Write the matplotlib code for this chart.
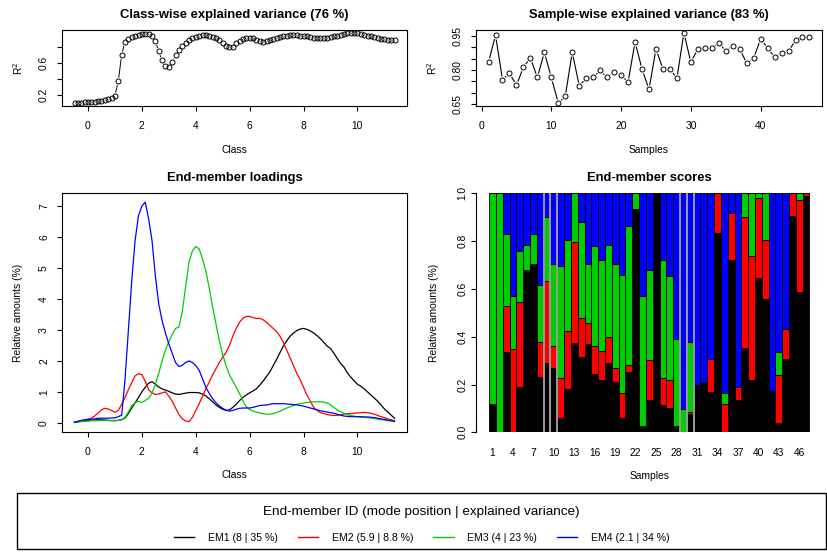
import numpy as np
import matplotlib
matplotlib.use("Agg")
import matplotlib.pyplot as plt
from matplotlib.lines import Line2D
from matplotlib.patches import Rectangle

plt.rcParams['font.family'] = ['Liberation Sans', 'DejaVu Sans']

# ---------------- data ----------------
classes = np.arange(-0.5, 11.376, 0.125)   # grain-size class grid (96 classes)

r2_class = [0.10, 0.10, 0.10, 0.11,
            0.115, 0.12, 0.12, 0.125, 0.13, 0.14, 0.15, 0.17,
            0.19, 0.37, 0.70, 0.86, 0.895, 0.915, 0.93, 0.94,
            0.95, 0.955, 0.95, 0.93, 0.87, 0.74, 0.63, 0.56,
            0.545, 0.61, 0.69, 0.76, 0.81, 0.85, 0.88, 0.90,
            0.92, 0.935, 0.94, 0.94, 0.935, 0.92, 0.90, 0.875,
            0.84, 0.81, 0.79, 0.80, 0.84, 0.87, 0.89, 0.905,
            0.905, 0.90, 0.88, 0.865, 0.86, 0.865, 0.875, 0.89,
            0.905, 0.92, 0.93, 0.935, 0.94, 0.94, 0.94, 0.935,
            0.93, 0.925, 0.92, 0.91, 0.905, 0.90, 0.90, 0.905,
            0.915, 0.925, 0.935, 0.945, 0.955, 0.965, 0.97, 0.97,
            0.97, 0.96, 0.945, 0.935, 0.925, 0.915, 0.905, 0.895,
            0.89, 0.885, 0.88, 0.88]

samples = np.arange(1, 48)
r2_sample = [0.835, 0.955, 0.758, 0.785, 0.733, 0.812, 0.853, 0.767, 0.879, 0.767,
             0.653, 0.684, 0.879, 0.730, 0.763, 0.767, 0.798, 0.767, 0.790, 0.777,
             0.746, 0.924, 0.804, 0.714, 0.893, 0.804, 0.804, 0.763, 0.965, 0.835,
             0.893, 0.897, 0.897, 0.920, 0.885, 0.908, 0.894, 0.830, 0.853, 0.938,
             0.898, 0.857, 0.875, 0.883, 0.932, 0.947, 0.947]

em1_loading = [0.02, 0.04, 0.05, 0.06,
               0.07, 0.08, 0.09, 0.10, 0.10, 0.09, 0.08, 0.07,
               0.07, 0.08, 0.10, 0.16, 0.30, 0.48, 0.65, 0.82,
               1.00, 1.15, 1.28, 1.33, 1.25, 1.16, 1.10, 1.06,
               1.02, 0.97, 0.93, 0.92, 0.94, 0.96, 0.98, 0.98,
               0.98, 0.97, 0.93, 0.87, 0.78, 0.68, 0.58, 0.50,
               0.44, 0.40, 0.42, 0.50, 0.60, 0.72, 0.82, 0.90,
               0.97, 1.03, 1.10, 1.22, 1.35, 1.50, 1.65, 1.85,
               2.05, 2.27, 2.48, 2.65, 2.80, 2.90, 2.98, 3.03,
               3.05, 3.02, 2.97, 2.90, 2.82, 2.72, 2.60, 2.48,
               2.40, 2.25, 2.08, 1.92, 1.80, 1.62, 1.48, 1.36,
               1.25, 1.18, 1.10, 1.00, 0.90, 0.80, 0.70, 0.58,
               0.45, 0.35, 0.25, 0.15]

em2_loading = [0.02, 0.04, 0.06, 0.09,
               0.12, 0.15, 0.22, 0.32, 0.42, 0.47, 0.45, 0.40,
               0.34, 0.40, 0.60, 0.82, 1.07, 1.30, 1.52, 1.59,
               1.56, 1.34, 1.07, 0.97, 0.92, 0.93, 0.97, 1.00,
               0.86, 0.70, 0.48, 0.27, 0.13, 0.06, 0.04, 0.18,
               0.40, 0.62, 0.85, 1.10, 1.32, 1.55, 1.75, 1.95,
               2.12, 2.28, 2.50, 2.80, 3.05, 3.25, 3.38, 3.44,
               3.44, 3.40, 3.37, 3.38, 3.33, 3.25, 3.15, 3.05,
               2.95, 2.80, 2.60, 2.35, 2.10, 1.85, 1.60, 1.40,
               1.15, 0.90, 0.70, 0.50, 0.40, 0.33, 0.30, 0.27,
               0.25, 0.24, 0.24, 0.26, 0.28, 0.30, 0.30, 0.31,
               0.32, 0.33, 0.34, 0.33, 0.31, 0.28, 0.24, 0.20,
               0.17, 0.13, 0.10, 0.07]

em3_loading = [0.01, 0.02, 0.04, 0.05,
               0.06, 0.07, 0.07, 0.07, 0.08, 0.08, 0.08, 0.08,
               0.08, 0.08, 0.10, 0.18, 0.35, 0.55, 0.65, 0.70,
               0.66, 0.72, 0.80, 0.95, 1.25, 1.60, 2.00, 2.35,
               2.62, 2.85, 3.05, 3.10, 3.60, 4.40, 5.20, 5.55,
               5.70, 5.62, 5.30, 4.90, 4.35, 3.75, 3.20, 2.65,
               2.20, 1.85, 1.55, 1.35, 1.15, 0.95, 0.70, 0.52,
               0.43, 0.38, 0.35, 0.32, 0.30, 0.28, 0.28, 0.30,
               0.33, 0.38, 0.43, 0.48, 0.52, 0.56, 0.60, 0.62,
               0.64, 0.66, 0.67, 0.68, 0.68, 0.68, 0.67, 0.64,
               0.58, 0.50, 0.42, 0.36, 0.31, 0.27, 0.24, 0.22,
               0.20, 0.19, 0.18, 0.17, 0.16, 0.14, 0.12, 0.10,
               0.09, 0.07, 0.06, 0.04]

em4_loading = [0.02, 0.05, 0.08, 0.10,
               0.11, 0.12, 0.13, 0.15, 0.15, 0.15, 0.15, 0.16,
               0.16, 0.20, 0.25, 1.40, 3.00, 4.60, 5.90, 6.70,
               7.00, 7.13, 6.60, 5.90, 4.75, 3.85, 3.30, 2.90,
               2.55, 2.25, 1.95, 1.82, 1.86, 1.95, 2.00, 1.95,
               1.85, 1.70, 1.42, 1.15, 0.95, 0.78, 0.65, 0.55,
               0.47, 0.41, 0.38, 0.40, 0.44, 0.47, 0.48, 0.48,
               0.48, 0.50, 0.53, 0.56, 0.57, 0.58, 0.60, 0.62,
               0.62, 0.62, 0.62, 0.61, 0.60, 0.59, 0.58, 0.56,
               0.54, 0.51, 0.48, 0.45, 0.42, 0.39, 0.37, 0.35,
               0.33, 0.31, 0.28, 0.25, 0.22, 0.21, 0.20, 0.20,
               0.20, 0.20, 0.19, 0.19, 0.18, 0.17, 0.15, 0.13,
               0.11, 0.09, 0.07, 0.05]

# end-member scores per sample (fractions)
em1_score = [0.117, 0.000, 0.337, 0.000, 0.189, 0.680, 0.705, 0.233, 0.291, 0.270,
             0.061, 0.181, 0.375, 0.317, 0.370, 0.246, 0.217, 0.291, 0.212, 0.058,
             0.254, 0.935, 0.028, 0.134, 1.000, 0.114, 0.100, 0.028, 0.000, 0.076,
             0.200, 0.212, 0.167, 0.833, 0.000, 0.721, 0.135, 0.354, 0.217, 0.647,
             0.559, 0.173, 0.039, 0.308, 0.907, 0.585, 0.989]
em2_score = [0.000, 0.000, 0.191, 0.348, 0.356, 0.000, 0.000, 0.143, 0.341, 0.090,
             0.166, 0.242, 0.423, 0.160, 0.088, 0.117, 0.125, 0.106, 0.056, 0.105,
             0.026, 0.000, 0.000, 0.168, 0.000, 0.113, 0.119, 0.000, 0.000, 0.007,
             0.000, 0.000, 0.139, 0.167, 0.117, 0.195, 0.056, 0.546, 0.522, 0.332,
             0.246, 0.000, 0.201, 0.124, 0.093, 0.387, 0.011]
em3_score = [0.883, 1.000, 0.301, 0.221, 0.215, 0.104, 0.125, 0.242, 0.270, 0.343,
             0.467, 0.381, 0.202, 0.402, 0.245, 0.417, 0.377, 0.387, 0.438, 0.494,
             0.583, 0.065, 0.544, 0.379, 0.000, 0.492, 0.433, 0.363, 0.098, 0.296,
             0.000, 0.000, 0.000, 0.000, 0.049, 0.000, 0.000, 0.100, 0.261, 0.021,
             0.195, 0.000, 0.098, 0.000, 0.000, 0.028, 0.000]
em4_score = [0.000, 0.000, 0.171, 0.431, 0.240, 0.216, 0.170, 0.382, 0.098, 0.297,
             0.306, 0.196, 0.000, 0.121, 0.297, 0.220, 0.281, 0.216, 0.294, 0.343,
             0.137, 0.000, 0.428, 0.319, 0.000, 0.281, 0.348, 0.609, 0.902, 0.621,
             0.800, 0.788, 0.694, 0.000, 0.834, 0.084, 0.809, 0.000, 0.000, 0.000,
             0.000, 0.827, 0.662, 0.568, 0.000, 0.000, 0.000]

highlight_samples = [9, 10, 29, 30]

em_names = ['EM1', 'EM2', 'EM3', 'EM4']
mode_position = ['8', '5.9', '4', '2.1']
explained_var = ['35', '8.8', '23', '34']
em_colors = ['black', '#FF0000', '#00CD00', '#0000FF']
class_ev = 76
sample_ev = 83

# ---------------- layout helpers ----------------
W, H = 827, 556
fig = plt.figure(figsize=(W / 100, H / 100), dpi=100)


def add_ax(l, t, r, b):
    return fig.add_axes([l / W, 1 - b / H, (r - l) / W, (b - t) / H])


def rlim(vals):
    lo, hi = float(np.min(vals)), float(np.max(vals))
    d = 0.04 * (hi - lo)
    return lo - d, hi + d


TICK_FS = 7.4
TITLE_FS = 9.4


def style(ax):
    for s in ax.spines.values():
        s.set_linewidth(0.8)
    ax.tick_params(direction='out', length=3.6, width=0.8, labelsize=TICK_FS)
    ax.tick_params(axis='x', pad=7.5)
    ax.tick_params(axis='y', pad=5.5)


def rot_ylabels(ax):
    for lab in ax.get_yticklabels():
        lab.set_rotation(90)
        lab.set_va('center')


def set_labels(ax, xl, yl, xoff, yoff, wpx, hpx):
    ax.set_xlabel(xl, fontsize=TICK_FS)
    ax.set_ylabel(yl, fontsize=TICK_FS)
    ax.xaxis.label.set_va('center')
    ax.yaxis.label.set_va('center')
    ax.xaxis.set_label_coords(0.5, -yoff / hpx)
    ax.yaxis.set_label_coords(-xoff / wpx, 0.5)


# ---------------- panel 1: class-wise explained variance ----------------
ax1 = add_ax(61.7, 30, 407.3, 106)
ax1.plot(classes, r2_class, color='black', lw=0.7)
ax1.plot(classes, r2_class, 'o', ms=5.6, mfc='white', mec='none')
ax1.plot(classes, r2_class, 'o', ms=3.6, mfc='none', mec='black', mew=0.7)
ax1.set_xlim(rlim(classes))
ax1.set_ylim(rlim(r2_class))
ax1.set_xticks([0, 2, 4, 6, 8, 10])
ax1.set_yticks([0.2, 0.4, 0.6, 0.8])
ax1.set_yticklabels(['0.2', '', '0.6', ''])
style(ax1)
rot_ylabels(ax1)
ax1.set_title(f'Class-wise explained variance ({class_ev} %)', fontsize=TITLE_FS,
              fontweight='bold', pad=8.3)
set_labels(ax1, 'Class', 'R$^2$', 43.7, 44, 345.6, 76)

# ---------------- panel 2: sample-wise explained variance ----------------
ax2 = add_ax(475.7, 30, 822.3, 106)
ax2.plot(samples, r2_sample, color='black', lw=0.8)
ax2.plot(samples, r2_sample, 'o', ms=6.0, mfc='white', mec='none')
ax2.plot(samples, r2_sample, 'o', ms=3.6, mfc='none', mec='black', mew=0.7)
ax2.set_xlim(rlim(samples))
ax2.set_ylim(rlim(r2_sample))
ax2.set_xticks([0, 10, 20, 30, 40])
yt = [0.65, 0.70, 0.75, 0.80, 0.85, 0.90, 0.95]
ax2.set_yticks(yt)
ax2.set_yticklabels(['0.65', '', '', '0.80', '', '', '0.95'])
style(ax2)
rot_ylabels(ax2)
ax2.set_title(f'Sample-wise explained variance ({sample_ev} %)', fontsize=TITLE_FS,
              fontweight='bold', pad=8.3)
set_labels(ax2, 'Samples', 'R$^2$', 43.4, 44, 346.6, 76)

# ---------------- panel 3: end-member loadings ----------------
ax3 = add_ax(61.7, 193.3, 407.3, 431.7)
loadings = [em1_loading, em2_loading, em3_loading, em4_loading]
for vals, col in zip(loadings, em_colors):
    ax3.plot(classes, vals, color=col, lw=0.9)
ax3.set_xlim(rlim(classes))
allv = np.concatenate([np.asarray(v) for v in loadings] + [[0.0]])
ax3.set_ylim(rlim(allv))
ax3.set_xticks([0, 2, 4, 6, 8, 10])
ax3.set_yticks(range(0, 8))
style(ax3)
rot_ylabels(ax3)
ax3.set_title('End-member loadings', fontsize=TITLE_FS, fontweight='bold', pad=9)
set_labels(ax3, 'Class', 'Relative amounts (%)', 43.4, 43.3, 345.6, 238.4)

# ---------------- panel 4: end-member scores ----------------
ax4 = add_ax(476.3, 193.3, 822.3, 432.3)
scores = [em1_score, em2_score, em3_score, em4_score]
bottom = np.zeros(len(samples))
for vals, col in zip(scores, em_colors):
    v = np.asarray(vals)
    ax4.bar(samples, v, bottom=bottom, width=1.0, color=col, edgecolor='black',
            linewidth=0.6, zorder=2)
    bottom = bottom + v
for s in highlight_samples:
    for xb in (s - 0.5, s + 0.5):
        ax4.axvline(xb, color='#9a9a9a', lw=1.4, zorder=3)
ax4.set_xlim(0.5 - 0.04 * len(samples), len(samples) + 0.5 + 0.04 * len(samples))
ax4.set_ylim(0, 1)
for side in ('top', 'right', 'bottom'):
    ax4.spines[side].set_visible(False)
ax4.spines['left'].set_linewidth(0.8)
ax4.set_xticks(samples[::3])
ax4.set_xticklabels([str(s) for s in samples[::3]])
ax4.set_yticks([0, 0.2, 0.4, 0.6, 0.8, 1.0])
ax4.set_yticklabels(['0.0', '0.2', '0.4', '0.6', '0.8', '1.0'])
ax4.tick_params(direction='out', length=3.6, width=0.8, labelsize=TICK_FS)
ax4.tick_params(axis='x', length=0, pad=11)
ax4.tick_params(axis='y', pad=3.0)
rot_ylabels(ax4)
ax4.set_title('End-member scores', fontsize=TITLE_FS, fontweight='bold', pad=9)
set_labels(ax4, 'Samples', 'Relative amounts (%)', 42.3, 43.7, 346, 239)

# ---------------- legend ----------------
fig.patches.append(Rectangle((17 / W, 1 - 549 / H), (826 - 17) / W, (549 - 493) / H,
                             transform=fig.transFigure, fill=False, lw=1.0,
                             ec='black'))
fig.text(421 / W, 1 - 512 / H, 'End-member ID (mode position | explained variance)',
         ha='center', va='center', fontsize=9.7)
handles = [Line2D([], [], color=c, lw=1.0) for c in em_colors]
labels = [f'{n} ({m} | {e} %)' for n, m, e in zip(em_names, mode_position, explained_var)]
fig.legend(handles, labels, loc='center', bbox_to_anchor=(422 / W, 1 - 538 / H),
           ncol=4, frameon=False, fontsize=7.6, handlelength=1.9, handletextpad=1.3,
           columnspacing=1.9)

fig.savefig('out.png', dpi=100)
